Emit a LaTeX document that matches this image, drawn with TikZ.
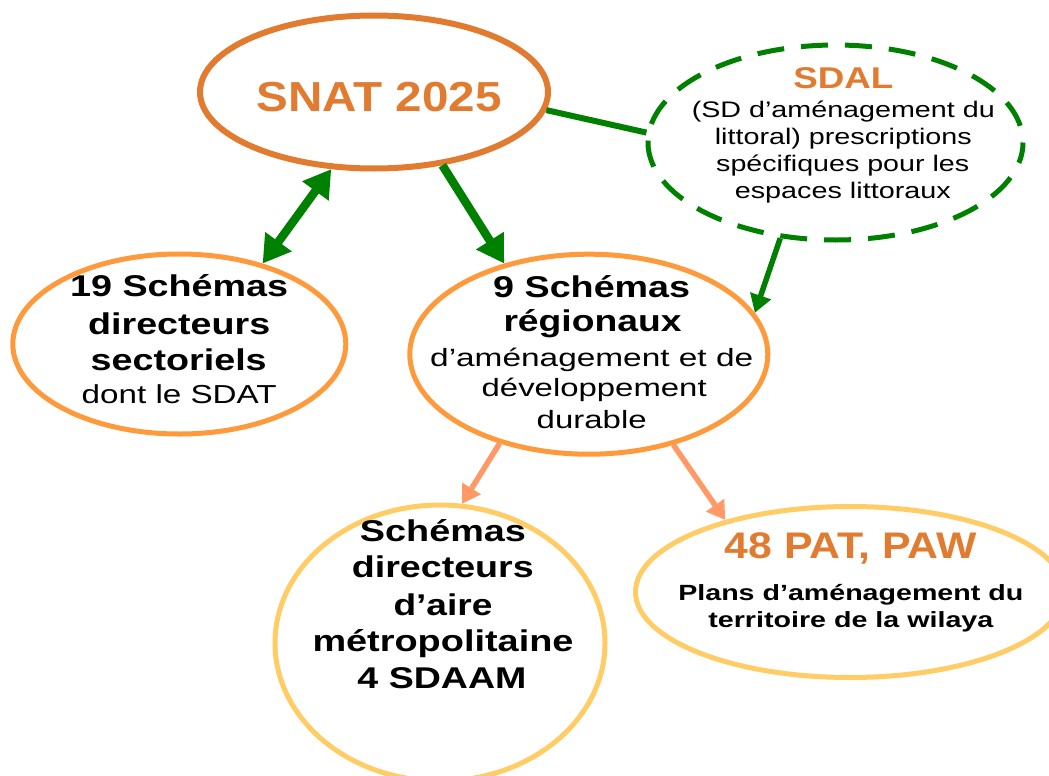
\documentclass[tikz,border=0pt]{standalone}
\usepackage{fontspec}
\setmainfont{Liberation Sans}
\usepackage{graphicx}
\usetikzlibrary{arrows.meta,shapes.geometric}
\definecolor{snatc}{HTML}{E07B2F}
\definecolor{orc}{HTML}{FF9A3C}
\definecolor{yelc}{HTML}{FFCC66}
\definecolor{grc}{HTML}{008000}
\definecolor{salc}{HTML}{FF9966}
\newcommand{\wtxt}[2]{\resizebox{#1pt}{\height}{#2}}
\begin{document}
\begin{tikzpicture}[x=1pt,y=-1pt,
  bub/.style={ellipse,draw,inner sep=0pt,line width=5pt},
  ln/.style={anchor=base,inner sep=0pt},
  bd/.style={font=\bfseries\fontsize{30}{30}\selectfont},
  greenarrow/.style={grc,line width=8.5pt,-{Triangle[width=31pt,length=27pt]}},
  thinarrow/.style={line width=5.5pt,-{Triangle[width=21pt,length=18pt]}}]
\path[use as bounding box,fill=white] (0,0) rectangle (1049,776);

% bubbles
\node[bub,draw=snatc,line width=6pt,minimum width=348pt,minimum height=153pt] (snat) at (374,92) {};
\node[bub,draw=grc,dash pattern=on 27pt off 17pt,dash phase=27pt,minimum width=375pt,minimum height=195pt] (sdal) at (835.5,142.5) {};
\node[bub,draw=orc,minimum width=333pt,minimum height=180pt] (s19) at (179.3,344) {};
\node[bub,draw=orc,minimum width=358pt,minimum height=200pt] (r9) at (588.8,354.2) {};
\node[bub,draw=yelc,minimum width=330pt,minimum height=276pt] (sdaam) at (440,643) {};
\node[bub,draw=yelc,minimum width=429pt,minimum height=171pt] (pat) at (850,592) {};

% texts
\node[ln,font=\bfseries\fontsize{42}{42}\selectfont,text=snatc] (tsnat) at (379.2,111.7) {\wtxt{245}{SNAT 2025}};

\node[ln,font=\bfseries\fontsize{30}{30}\selectfont,text=snatc] (tsdal) at (843.3,88.3) {\wtxt{100}{SDAL}};
\begin{scope}[every node/.style={ln,font=\fontsize{22.5}{22.5}\selectfont}]
\node (sdal1) at (843.3,117.3) {\wtxt{303}{(SD d’aménagement du}};
\node (sdal2) at (843.3,144) {\wtxt{257}{littoral) prescriptions}};
\node (sdal3) at (842.7,171) {\wtxt{253}{spécifiques pour les}};
\node (sdal4) at (842.8,198.3) {\wtxt{216}{espaces littoraux}};
\end{scope}

\node[ln,bd] (t19a) at (179.2,296.7) {\wtxt{218}{19 Schémas}};
\node[ln,bd] (t19b) at (179.2,334) {\wtxt{182}{directeurs}};
\node[ln,bd] (t19c) at (178.7,370.7) {\wtxt{176}{sectoriels}};
\node[ln,font=\fontsize{26}{26}\selectfont] (t19d) at (179.2,403.3) {\wtxt{195}{dont le SDAT}};

\node[ln,bd] (t9a) at (591.7,297.3) {\wtxt{197}{9 Schémas}};
\node[ln,bd] (t9b) at (592.5,331.7) {\wtxt{178}{régionaux}};
\begin{scope}[every node/.style={ln,font=\fontsize{25}{25}\selectfont}]
\node (t9c) at (591.7,366.7) {\wtxt{323}{d’aménagement et de}};
\node (t9d) at (594.2,396.7) {\wtxt{225}{développement}};
\node (t9e) at (591.7,428.3) {\wtxt{110}{durable}};
\end{scope}

\node[ln,bd] (tma) at (443,541.7) {\wtxt{166}{Schémas}};
\node[ln,bd] (tmb) at (442.8,577.7) {\wtxt{182}{directeurs}};
\node[ln,bd] (tmc) at (443,615) {\wtxt{99}{d’aire}};
\node[ln,bd] (tmd) at (443,651.7) {\wtxt{261}{métropolitaine}};
\node[ln,bd] (tme) at (442,688.3) {\wtxt{169}{4 SDAAM}};

\node[ln,font=\bfseries\fontsize{37}{37}\selectfont,text=snatc] (tpa) at (850.8,558.3) {\wtxt{252}{48 PAT, PAW}};
\node[ln,font=\bfseries\fontsize{22}{22}\selectfont] (tpb) at (850.8,600.7) {\wtxt{345}{Plans d’aménagement du}};
\node[ln,font=\bfseries\fontsize{22}{22}\selectfont] (tpc) at (850.8,627.3) {\wtxt{285}{territoire de la wilaya}};

% connectors
\draw[greenarrow,{Triangle[width=31pt,length=27pt]}-{Triangle[width=31pt,length=27pt]}] (snat.241.7) -- (s19.44.3);
\draw[greenarrow] (snat.313) -- (r9.133.4);
\draw[grc,line width=6pt] (snat.354) -- (sdal.177.7);
\draw[thinarrow,grc] (sdal.240.9) -- (r9.14.8);
\draw[thinarrow,salc] (r9.225.6) -- (sdaam.81.1);
\draw[thinarrow,salc] (r9.313.7) -- (pat.150);
\end{tikzpicture}
\end{document}
